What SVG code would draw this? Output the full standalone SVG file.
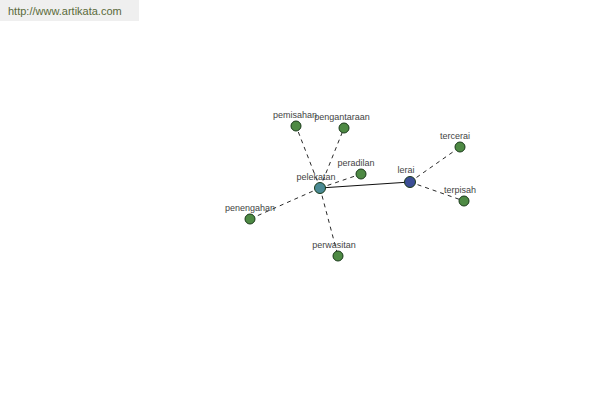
<svg xmlns="http://www.w3.org/2000/svg" width="600" height="400" viewBox="0 0 600 400">
<style>
.lbl{font-family:"Liberation Sans",Arial,sans-serif;font-size:9px;fill:#444;text-anchor:middle}
.n{stroke:#1a3a1a;stroke-width:1}
.g{fill:#4e8a44}
.d{stroke:#111;stroke-width:0.9;stroke-dasharray:4,4;fill:none}
</style>
<rect x="0" y="0" width="139" height="21" fill="#efefef"/>
<text x="8" y="15" font-family="'Liberation Sans',Arial,sans-serif" font-size="11" fill="#5a6a3a">http://www.artikata.com</text>
<g id="connectors">
<line class="d" x1="320" y1="188" x2="296" y2="126"/>
<line class="d" x1="320" y1="188" x2="344" y2="128"/>
<line class="d" x1="320" y1="188" x2="361" y2="174"/>
<line class="d" x1="320" y1="188" x2="250" y2="219"/>
<line class="d" x1="320" y1="188" x2="338" y2="256"/>
<line class="d" x1="410" y1="182" x2="460" y2="147"/>
<line class="d" x1="410" y1="182" x2="464" y2="201"/>
<line x1="320" y1="188" x2="410" y2="182" stroke="#111" stroke-width="1.1"/>
</g>
<g id="pemisahan"><circle class="n g" cx="296" cy="126" r="5"/><text class="lbl" x="295" y="118">pemisahan</text></g>
<g id="pengantaraan"><circle class="n g" cx="344" cy="128" r="5"/><text class="lbl" x="342" y="120">pengantaraan</text></g>
<g id="peradilan"><circle class="n g" cx="361" cy="174" r="5"/><text class="lbl" x="356" y="166">peradilan</text></g>
<g id="penengahan"><circle class="n g" cx="250" cy="219" r="5"/><text class="lbl" x="250" y="211">penengahan</text></g>
<g id="perwasitan"><circle class="n g" cx="338" cy="256" r="5"/><text class="lbl" x="334" y="248">perwasitan</text></g>
<g id="tercerai"><circle class="n g" cx="460" cy="147" r="5"/><text class="lbl" x="455" y="139">tercerai</text></g>
<g id="terpisah"><circle class="n g" cx="464" cy="201" r="5"/><text class="lbl" x="460" y="193">terpisah</text></g>
<g id="pelekatan"><circle class="n" fill="#4a8a94" cx="320" cy="188" r="5.5"/><text class="lbl" x="316" y="180">pelekatan</text></g>
<g id="lerai"><circle class="n" fill="#3c4e96" cx="410" cy="182" r="5.5"/><text class="lbl" x="406" y="173">lerai</text></g>
</svg>
